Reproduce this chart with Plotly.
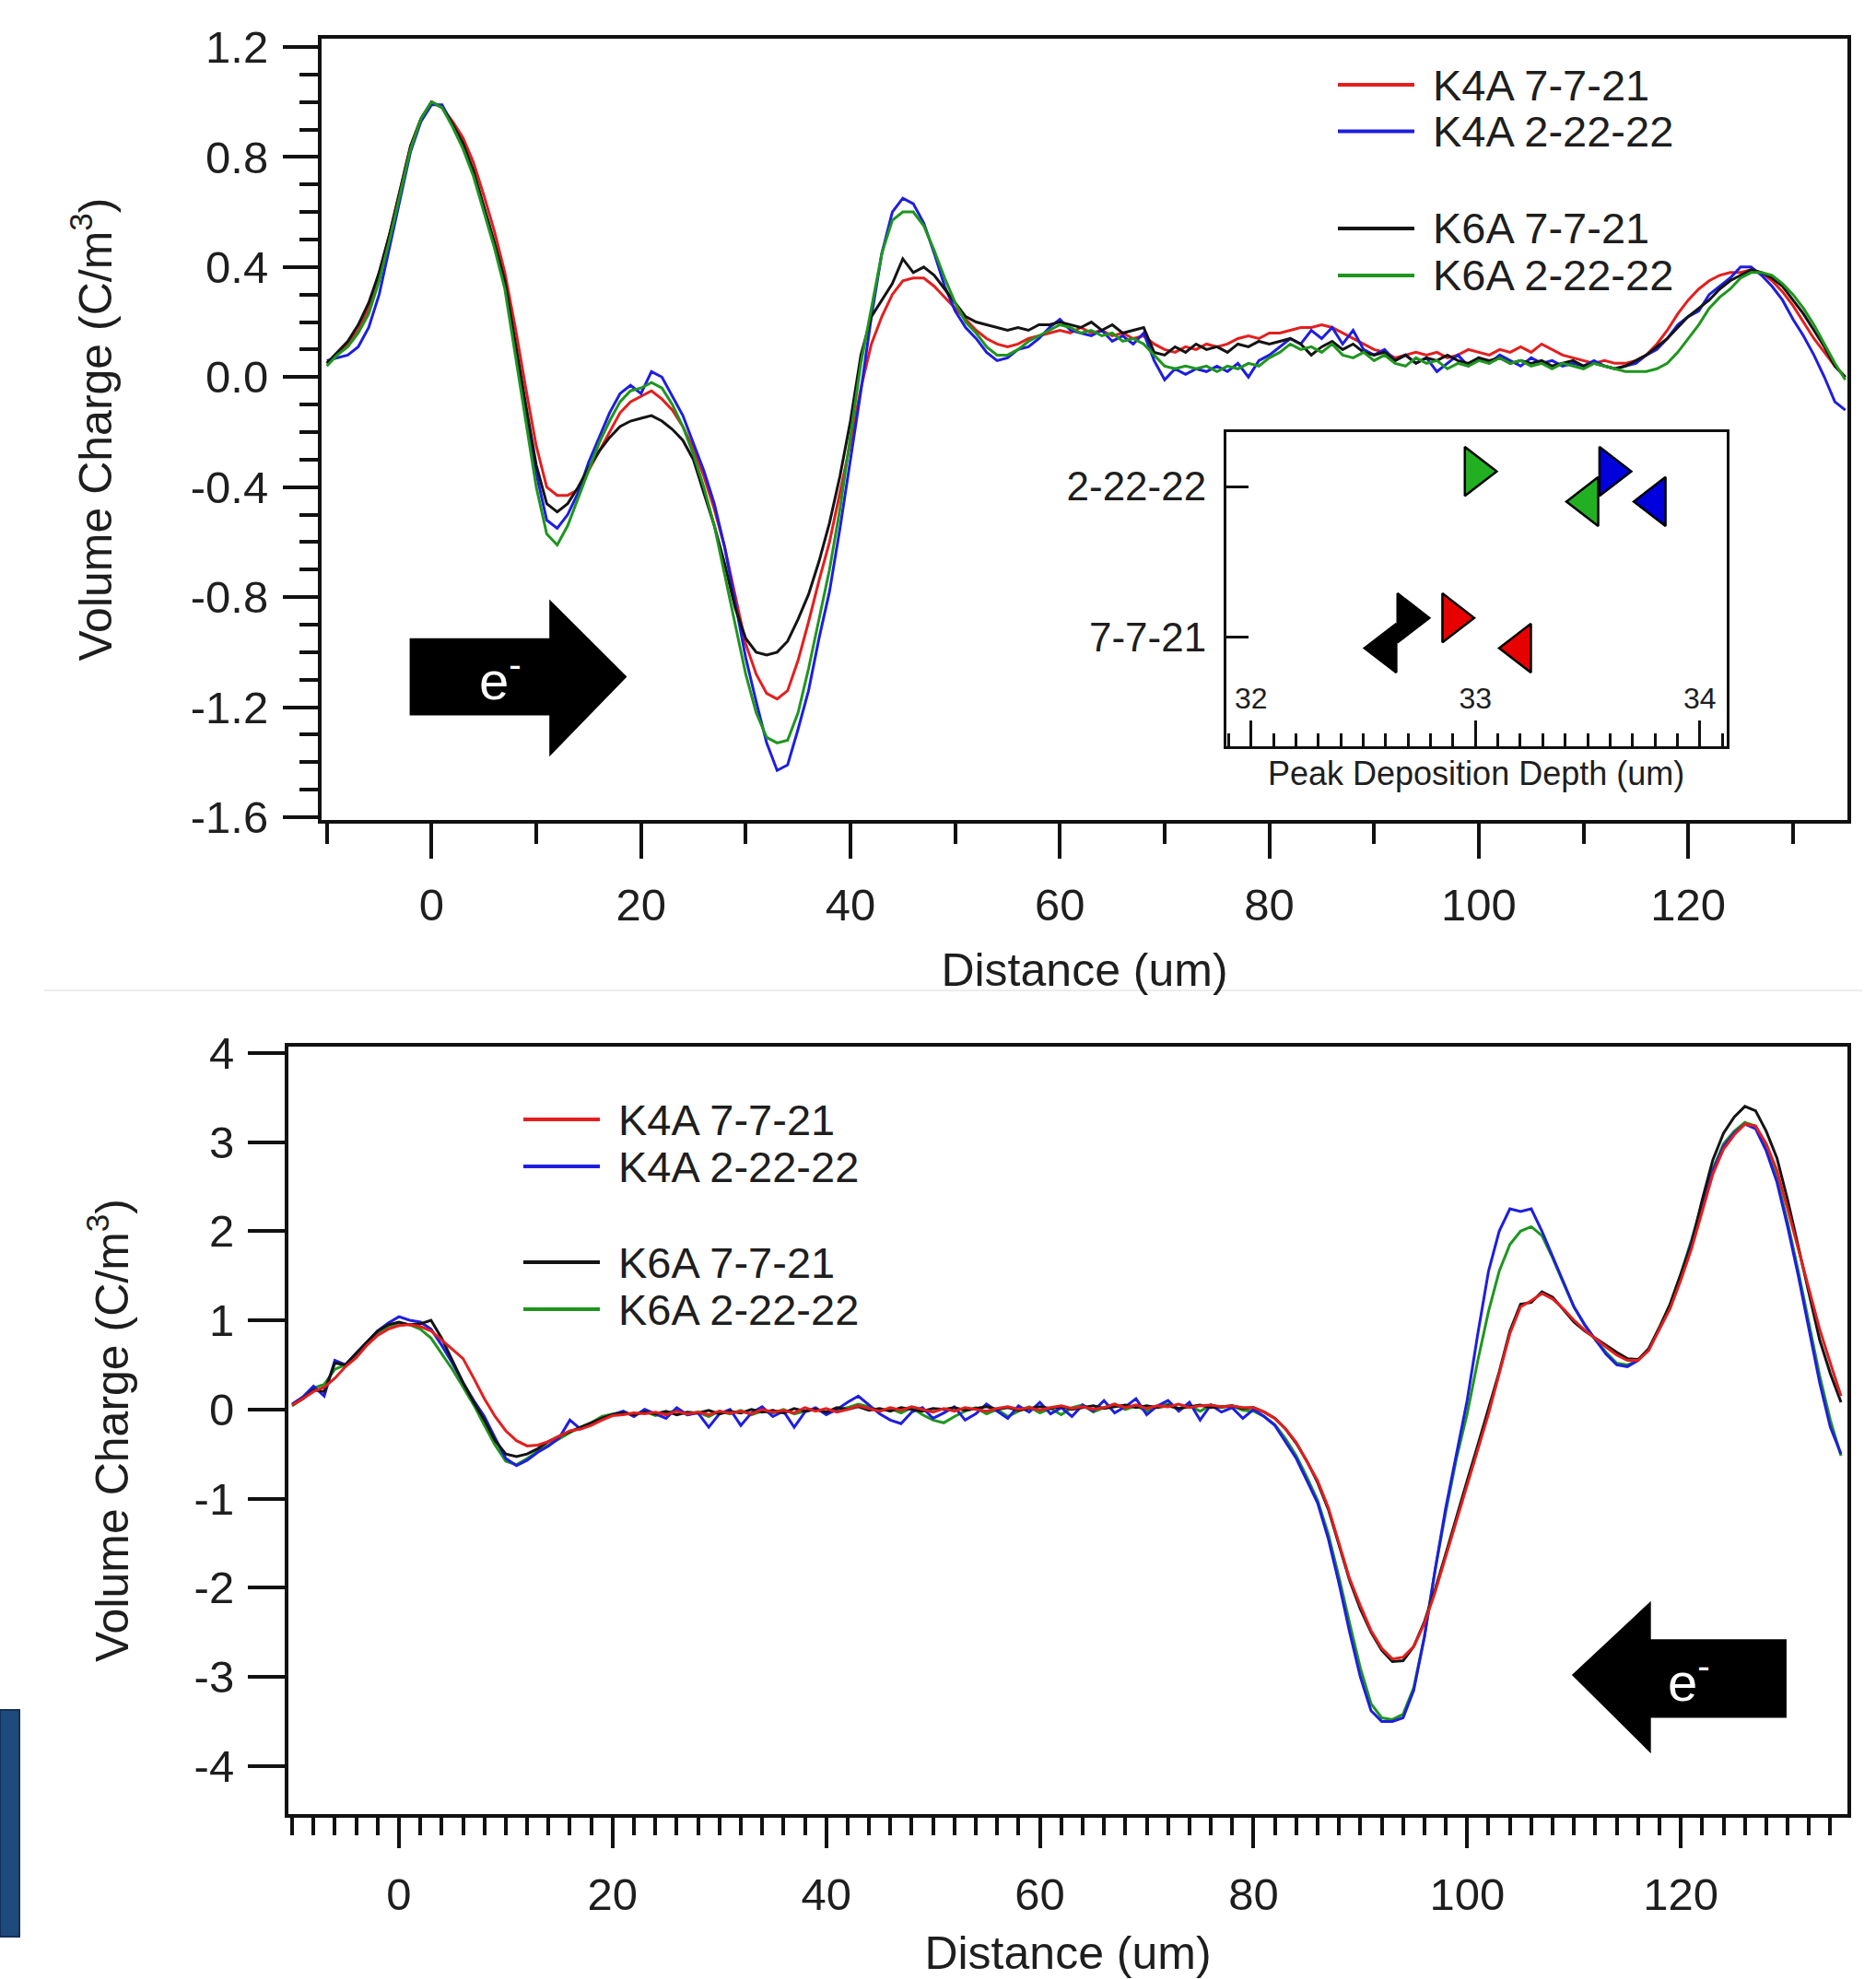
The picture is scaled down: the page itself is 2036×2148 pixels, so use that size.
import plotly.graph_objects as go

W, H = 2036, 2148
FONT = "Liberation Sans, Arial, Helvetica, sans-serif"
TXT = "#1e1e1e"
AX = "#111111"

# ---------------- data ----------------
series_names = ["K4A 7-7-21", "K4A 2-22-22", "K6A 7-7-21", "K6A 2-22-22"]
series_colors = ["#e41e1e", "#1e1ee0", "#141414", "#1e961e"]
marker_colors = ["#e60000", "#0000dd", "#000000", "#22b022"]

distance_um = list(range(-10, 136))

top_k4a_0707 = [
    0.05, 0.08, 0.12, 0.17, 0.25, 0.38, 0.52, 0.68, 0.84, 0.94,
    1.00, 0.98, 0.93, 0.87, 0.78, 0.66, 0.53, 0.38, 0.18, -0.04,
    -0.25, -0.40, -0.43, -0.43, -0.41, -0.34, -0.27, -0.20, -0.13, -0.09,
    -0.07, -0.05, -0.08, -0.12, -0.18, -0.26, -0.36, -0.48, -0.62, -0.80,
    -0.97, -1.08, -1.15, -1.17, -1.14, -1.03, -0.89, -0.74, -0.60, -0.42,
    -0.24, -0.04, 0.12, 0.22, 0.30, 0.35, 0.36, 0.36, 0.33, 0.29,
    0.25, 0.21, 0.17, 0.14, 0.12, 0.11, 0.12, 0.14, 0.15, 0.16,
    0.17, 0.16, 0.18, 0.16, 0.17, 0.15, 0.16, 0.14, 0.15, 0.12,
    0.10, 0.09, 0.11, 0.10, 0.12, 0.11, 0.12, 0.14, 0.15, 0.14,
    0.16, 0.16, 0.17, 0.18, 0.18, 0.19, 0.18, 0.16, 0.14, 0.12,
    0.10, 0.09, 0.07, 0.08, 0.09, 0.08, 0.09, 0.07, 0.08, 0.10,
    0.09, 0.08, 0.10, 0.09, 0.11, 0.09, 0.12, 0.10, 0.08, 0.07,
    0.06, 0.05, 0.06, 0.05, 0.05, 0.06, 0.08, 0.12, 0.17, 0.23,
    0.28, 0.32, 0.35, 0.37, 0.38, 0.38, 0.39, 0.38, 0.35, 0.31,
    0.26, 0.20, 0.14, 0.09, 0.04, 0.00,
]
top_k4a_0222 = [
    0.06, 0.07, 0.08, 0.11, 0.18, 0.30, 0.47, 0.65, 0.82, 0.93,
    0.99, 0.99, 0.92, 0.84, 0.74, 0.61, 0.48, 0.33, 0.10, -0.12,
    -0.35, -0.52, -0.55, -0.50, -0.42, -0.31, -0.22, -0.13, -0.06, -0.03,
    -0.06, 0.02, 0.00, -0.07, -0.14, -0.24, -0.34, -0.46, -0.62, -0.82,
    -1.02, -1.18, -1.33, -1.43, -1.41, -1.28, -1.14, -0.95, -0.78, -0.55,
    -0.30, -0.05, 0.22, 0.45, 0.60, 0.65, 0.63, 0.56, 0.45, 0.33,
    0.24, 0.18, 0.14, 0.09, 0.06, 0.07, 0.10, 0.11, 0.14, 0.18,
    0.21, 0.17, 0.16, 0.15, 0.17, 0.13, 0.15, 0.12, 0.16, 0.06,
    -0.01, 0.03, 0.01, 0.03, 0.02, 0.04, 0.02, 0.05, 0.00, 0.06,
    0.08, 0.11, 0.14, 0.12, 0.17, 0.14, 0.18, 0.12, 0.17, 0.10,
    0.08, 0.10, 0.06, 0.08, 0.05, 0.07, 0.02, 0.05, 0.08, 0.04,
    0.07, 0.05, 0.08, 0.06, 0.04, 0.07, 0.05, 0.06, 0.04, 0.05,
    0.04, 0.06, 0.04, 0.03, 0.04, 0.05, 0.08, 0.10, 0.14, 0.19,
    0.22, 0.24, 0.30, 0.33, 0.36, 0.40, 0.40, 0.37, 0.33, 0.28,
    0.21, 0.15, 0.08, 0.00, -0.09, -0.12,
]
top_k6a_0707 = [
    0.05, 0.09, 0.13, 0.19, 0.27, 0.38, 0.52, 0.68, 0.84, 0.94,
    1.00, 0.98, 0.92, 0.85, 0.75, 0.62, 0.49, 0.35, 0.12, -0.10,
    -0.32, -0.46, -0.49, -0.46, -0.40, -0.33, -0.27, -0.22, -0.18, -0.16,
    -0.15, -0.14, -0.16, -0.19, -0.23, -0.30, -0.42, -0.54, -0.68, -0.84,
    -0.95, -1.00, -1.01, -1.00, -0.96, -0.88, -0.79, -0.67, -0.53, -0.36,
    -0.16, 0.08, 0.22, 0.28, 0.34, 0.43, 0.38, 0.40, 0.37, 0.32,
    0.27, 0.22, 0.20, 0.19, 0.18, 0.17, 0.18, 0.17, 0.19, 0.19,
    0.20, 0.19, 0.18, 0.20, 0.17, 0.19, 0.16, 0.17, 0.18, 0.09,
    0.08, 0.11, 0.09, 0.12, 0.10, 0.11, 0.09, 0.12, 0.11, 0.13,
    0.12, 0.13, 0.14, 0.12, 0.08, 0.11, 0.13, 0.10, 0.12, 0.09,
    0.08, 0.09, 0.06, 0.08, 0.05, 0.07, 0.06, 0.08, 0.06, 0.05,
    0.07, 0.06, 0.07, 0.05, 0.06, 0.05, 0.06, 0.04, 0.05, 0.06,
    0.04, 0.05, 0.04, 0.03, 0.04, 0.06, 0.08, 0.11, 0.14, 0.18,
    0.22, 0.25, 0.28, 0.32, 0.35, 0.37, 0.39, 0.38, 0.36, 0.33,
    0.28, 0.23, 0.17, 0.11, 0.04, 0.00,
]
top_k6a_0222 = [
    0.04, 0.08, 0.11, 0.16, 0.23, 0.35, 0.50, 0.67, 0.83, 0.94,
    1.00, 0.98, 0.91, 0.83, 0.73, 0.60, 0.47, 0.32, 0.08, -0.16,
    -0.40, -0.57, -0.61, -0.54, -0.44, -0.34, -0.24, -0.16, -0.09, -0.05,
    -0.04, -0.02, -0.04, -0.10, -0.18, -0.28, -0.40, -0.54, -0.72, -0.90,
    -1.08, -1.22, -1.31, -1.33, -1.32, -1.22, -1.06, -0.88, -0.70, -0.48,
    -0.22, 0.05, 0.25, 0.45, 0.57, 0.60, 0.60, 0.55, 0.46, 0.36,
    0.27, 0.20, 0.16, 0.11, 0.08, 0.08, 0.10, 0.13, 0.15, 0.17,
    0.19, 0.18, 0.16, 0.17, 0.15, 0.16, 0.13, 0.14, 0.12, 0.08,
    0.04, 0.03, 0.04, 0.03, 0.04, 0.02, 0.04, 0.03, 0.05, 0.04,
    0.07, 0.09, 0.12, 0.10, 0.11, 0.09, 0.12, 0.08, 0.07, 0.09,
    0.06, 0.08, 0.05, 0.04, 0.07, 0.05, 0.06, 0.03, 0.05, 0.04,
    0.06, 0.05, 0.07, 0.05, 0.06, 0.04, 0.05, 0.03, 0.05, 0.04,
    0.03, 0.05, 0.04, 0.03, 0.02, 0.02, 0.02, 0.03, 0.05, 0.09,
    0.14, 0.19, 0.25, 0.29, 0.32, 0.36, 0.38, 0.38, 0.37, 0.34,
    0.30, 0.25, 0.19, 0.12, 0.05, -0.01,
]

bot_k4a_0707 = [
    0.05, 0.12, 0.20, 0.25, 0.35, 0.48, 0.58, 0.72, 0.83, 0.90,
    0.94, 0.95, 0.93, 0.88, 0.78, 0.68, 0.57, 0.35, 0.12, -0.08,
    -0.24, -0.35, -0.41, -0.40, -0.36, -0.30, -0.24, -0.22, -0.18, -0.12,
    -0.07,
    -0.06, -0.04, -0.05, -0.03, -0.06, -0.02, -0.05, -0.03, -0.06, -0.02,
    -0.04, -0.02, -0.05, 0.00, -0.03, -0.01, -0.04, 0.02, -0.02, 0.01,
    -0.03, 0.00, 0.04, 0.01, -0.02, 0.02, -0.01, 0.03, 0.00, -0.03,
    0.01, -0.02, 0.02, 0.00, -0.02, 0.01, 0.03, 0.00, 0.02, -0.01,
    0.02, 0.04, 0.01, 0.03, 0.00, 0.02, 0.06, 0.02, 0.05, 0.01,
    0.04, 0.03, 0.06, 0.02, 0.04, 0.05, 0.03, 0.04, 0.02,
    0.02, -0.03, -0.10, -0.22, -0.37, -0.58, -0.80, -1.10, -1.50, -1.90,
    -2.20, -2.48, -2.68, -2.80, -2.78, -2.66, -2.40, -2.05, -1.65, -1.25,
    -0.85, -0.45, -0.05, 0.40, 0.85, 1.15, 1.22, 1.30, 1.24, 1.13,
    1.00, 0.89, 0.79, 0.70, 0.61, 0.55, 0.55, 0.66, 0.90, 1.13,
    1.45, 1.80, 2.22, 2.64, 2.92, 3.08, 3.20, 3.18, 2.98, 2.68,
    2.25, 1.80, 1.35, 0.90, 0.52, 0.15,
]
bot_k4a_0222 = [
    0.06, 0.14, 0.26, 0.15, 0.55, 0.50, 0.63, 0.76, 0.88, 0.97,
    1.04, 1.00, 0.98, 0.90, 0.72, 0.52, 0.30, 0.10, -0.08, -0.32,
    -0.55, -0.63, -0.57, -0.48, -0.41, -0.32, -0.12, -0.22, -0.17, -0.10,
    -0.06,
    -0.02, -0.08, 0.00, -0.05, -0.10, 0.02, -0.06, -0.04, -0.20, -0.05,
    0.00, -0.18, -0.04, 0.03, -0.08, -0.02, -0.20, -0.03, 0.02, -0.06,
    0.00, 0.08, 0.15, 0.05, -0.05, -0.12, -0.16, -0.03, 0.02, -0.10,
    -0.04, 0.03, -0.12, -0.05, 0.06, -0.02, -0.10, 0.04, -0.03, 0.08,
    -0.05, 0.02, -0.08, 0.05, -0.02, 0.10, -0.04, 0.03, 0.12, -0.06,
    0.04, 0.10, -0.02, 0.08, -0.12, 0.05, -0.03, 0.02, -0.10,
    0.00, -0.08, -0.18, -0.36, -0.55, -0.80, -1.05, -1.45, -1.95, -2.50,
    -3.00, -3.38, -3.50, -3.50, -3.46, -3.15, -2.55, -1.80, -1.10, -0.50,
    0.10, 0.85, 1.55, 2.00, 2.25, 2.22, 2.25, 2.00, 1.72, 1.42,
    1.15, 0.95, 0.78, 0.62, 0.50, 0.48, 0.55, 0.68, 0.90, 1.15,
    1.50, 1.88, 2.30, 2.68, 2.95, 3.10, 3.20, 3.15, 2.90, 2.55,
    2.05, 1.50, 0.90, 0.30, -0.20, -0.50,
]
bot_k6a_0707 = [
    0.05, 0.12, 0.22, 0.20, 0.52, 0.50, 0.63, 0.75, 0.88, 0.95,
    0.98, 0.95, 0.96, 1.00, 0.80, 0.55, 0.30, 0.08, -0.12, -0.35,
    -0.50, -0.53, -0.50, -0.44, -0.36, -0.30, -0.25, -0.20, -0.15, -0.10,
    -0.06,
    -0.04, -0.06, -0.03, -0.05, -0.02, -0.06, -0.03, -0.04, -0.01, -0.05,
    -0.02, -0.04, 0.00, -0.03, -0.01, -0.04, 0.01, -0.02, 0.00, -0.03,
    0.02, 0.00, 0.03, -0.01, 0.01, -0.02, 0.02, 0.00, -0.02, 0.01,
    0.00, 0.02, -0.01, 0.01, 0.03, 0.00, 0.02, -0.01, 0.01, 0.03,
    0.01, 0.03, 0.00, 0.02, 0.04, 0.01, 0.03, 0.05, 0.02, 0.04,
    0.02, 0.04, 0.01, 0.03, 0.05, 0.02, 0.03, 0.04, 0.01,
    0.02, -0.03, -0.10, -0.22, -0.38, -0.58, -0.82, -1.12, -1.52, -1.92,
    -2.24, -2.50, -2.70, -2.83, -2.82, -2.66, -2.38, -2.02, -1.62, -1.20,
    -0.80, -0.40, 0.00, 0.42, 0.88, 1.18, 1.20, 1.32, 1.26, 1.12,
    0.98, 0.88, 0.80, 0.72, 0.64, 0.57, 0.56, 0.68, 0.92, 1.18,
    1.52, 1.85, 2.35, 2.80, 3.10, 3.28, 3.40, 3.35, 3.12, 2.82,
    2.35, 1.82, 1.30, 0.78, 0.40, 0.08,
]
bot_k6a_0222 = [
    0.04, 0.12, 0.24, 0.28, 0.45, 0.50, 0.60, 0.73, 0.85, 0.93,
    0.97, 0.95, 0.90, 0.80, 0.62, 0.45, 0.25, 0.05, -0.18, -0.40,
    -0.58, -0.62, -0.55, -0.47, -0.40, -0.33, -0.26, -0.20, -0.15, -0.08,
    -0.05,
    -0.03, -0.06, -0.02, -0.07, -0.04, -0.01, -0.06, -0.03, -0.08, -0.02,
    -0.05, -0.01, -0.06, -0.02, -0.04, 0.00, -0.05, -0.02, 0.01, -0.04,
    -0.01, 0.02, 0.06, 0.03, -0.02, 0.01, -0.04, 0.02, -0.06, -0.12,
    -0.15, -0.08, -0.02, 0.02, -0.05, 0.00, -0.08, -0.02, 0.03, -0.04,
    0.01, -0.06, 0.02, 0.05, -0.03, 0.02, 0.06, 0.00, 0.04, -0.02,
    0.03, 0.06, 0.01, 0.04, -0.02, 0.05, 0.02, 0.04, -0.01,
    -0.02, -0.08, -0.17, -0.33, -0.52, -0.76, -1.02, -1.40, -1.88, -2.40,
    -2.90, -3.30, -3.46, -3.48, -3.42, -3.12, -2.55, -1.80, -1.15, -0.55,
    -0.05, 0.55, 1.10, 1.55, 1.85, 2.00, 2.05, 1.95, 1.70, 1.42,
    1.15, 0.95, 0.78, 0.64, 0.52, 0.50, 0.55, 0.68, 0.92, 1.18,
    1.52, 1.90, 2.32, 2.70, 2.98, 3.12, 3.22, 3.18, 2.95, 2.60,
    2.10, 1.55, 0.95, 0.38, -0.12, -0.52,
]

# inset: peak deposition depth (um); two estimates per sample (right / left triangles)
inset_rows = ["7-7-21", "2-22-22"]
inset_depth_right = [32.90, 33.60, 32.70, 33.00]
inset_depth_left = [33.20, 33.80, 32.60, 33.50]
inset_row_right = [1.13, 2.10, 1.13, 2.10]
inset_row_left = [0.93, 1.90, 0.93, 1.90]

top_yticks = [-1.6, -1.2, -0.8, -0.4, 0.0, 0.4, 0.8, 1.2]
top_yticktext = ["-1.6", "-1.2", "-0.8", "-0.4", "0.0", "0.4", "0.8", "1.2"]
bot_yticks = [-4, -3, -2, -1, 0, 1, 2, 3, 4]
bot_yticktext = ["-4", "-3", "-2", "-1", "0", "1", "2", "3", "4"]

top_series = [top_k4a_0707, top_k4a_0222, top_k6a_0707, top_k6a_0222]
bot_series = [bot_k4a_0707, bot_k4a_0222, bot_k6a_0707, bot_k6a_0222]
for s in top_series + bot_series:
    assert len(s) == len(distance_um), len(s)


def px(x):
    return x / W


def py(y):
    return 1 - y / H


fig = go.Figure()

for i in [0, 1, 2, 3]:
    fig.add_trace(go.Scatter(
        x=distance_um, y=top_series[i], mode="lines", name=series_names[i],
        line=dict(color=series_colors[i], width=3), xaxis="x", yaxis="y",
        showlegend=False))
for i in [3, 1, 2, 0]:
    fig.add_trace(go.Scatter(
        x=distance_um, y=bot_series[i], mode="lines", name=series_names[i],
        line=dict(color=series_colors[i], width=3), xaxis="x2", yaxis="y2",
        showlegend=False))

fig.add_trace(go.Scatter(
    x=inset_depth_right, y=inset_row_right, mode="markers", xaxis="x3", yaxis="y3",
    text=series_names, showlegend=False,
    marker=dict(symbol="triangle-right", size=46, color=marker_colors,
                line=dict(color="#000", width=2.5))))
fig.add_trace(go.Scatter(
    x=inset_depth_left, y=inset_row_left, mode="markers", xaxis="x3", yaxis="y3",
    text=series_names, showlegend=False,
    marker=dict(symbol="triangle-left", size=46, color=marker_colors,
                line=dict(color="#000", width=2.5))))


def frame_axis(**kw):
    d = dict(showline=True, linecolor=AX, linewidth=4, mirror=True,
             tickcolor=AX, tickwidth=3.5, showgrid=False, zeroline=False,
             automargin=False,
             tickfont=dict(family=FONT, size=49, color=TXT))
    d.update(kw)
    return d


title_font = dict(family=FONT, size=50, color=TXT)

fig.update_layout(
    template="none",
    width=W, height=H, margin=dict(l=0, r=0, t=0, b=0, pad=0), autosize=False,
    paper_bgcolor="white", plot_bgcolor="white", showlegend=False,
    font=dict(family=FONT, color=TXT),
    xaxis=frame_axis(
        domain=[px(349), px(2005)], range=[-10.5, 135.2], anchor="y",
        ticks="outside", tickmode="linear", tick0=0, dtick=20, ticklen=38,
        ticklabelstandoff=8,
        minor=dict(ticks="outside", tickmode="linear", tick0=0, dtick=10,
                   ticklen=22, tickwidth=3.5, tickcolor=AX),
        title=dict(text="Distance (um)", font=title_font, standoff=28)),
    yaxis=frame_axis(
        domain=[py(890), py(42)], range=[-1.61, 1.23], anchor="x",
        ticks="outside", tickmode="array", tickvals=top_yticks,
        ticktext=top_yticktext, ticklen=38, ticklabelstandoff=6,
        minor=dict(ticks="outside", tickmode="linear", tick0=0, dtick=0.1,
                   ticklen=20, tickwidth=3.5, tickcolor=AX),
        title=dict(text="Volume Charge (C/m<sup>3</sup>)", font=title_font,
                   standoff=70)),
    xaxis2=frame_axis(
        domain=[px(313), px(2005)], range=[-10.35, 135.6], anchor="y2",
        ticks="outside", tickmode="linear", tick0=0, dtick=20, ticklen=33,
        ticklabelstandoff=8,
        minor=dict(ticks="outside", tickmode="linear", tick0=0, dtick=2,
                   ticklen=19, tickwidth=3.5, tickcolor=AX),
        title=dict(text="Distance (um)", font=title_font, standoff=28)),
    yaxis2=frame_axis(
        domain=[py(1969), py(1136)], range=[-4.54, 4.07], anchor="x2",
        ticks="outside", tickmode="array", tickvals=bot_yticks,
        ticktext=bot_yticktext, ticklen=40, ticklabelstandoff=5,
        title=dict(text="Volume Charge (C/m<sup>3</sup>)", font=title_font,
                   standoff=56)),
    xaxis3=frame_axis(
        domain=[px(1331), px(1874)], range=[31.89, 34.12], anchor="y3",
        linewidth=3, tickwidth=2.5,
        ticks="inside", tickmode="linear", tick0=32, dtick=1, ticklen=28,
        ticklabelposition="inside", ticklabelstandoff=10,
        tickfont=dict(family=FONT, size=32, color=TXT),
        minor=dict(ticks="inside", tickmode="linear", tick0=32, dtick=0.1,
                   ticklen=14, tickwidth=2.5, tickcolor=AX)),
    yaxis3=frame_axis(
        domain=[py(810), py(469)], range=[0.28, 2.36], anchor="x3",
        linewidth=3, tickwidth=2.5,
        ticks="inside", tickmode="array", tickvals=[1, 2], ticktext=inset_rows,
        ticklen=24, ticklabelstandoff=10,
        tickfont=dict(family=FONT, size=44, color=TXT)),
)

shapes = []
annotations = []

# legends (drawn manually to match the long line glyphs of the original)
top_leg_y = [92, 142.5, 248, 299]
bot_leg_y = [1215, 1266, 1370, 1421]
for i, name in enumerate(series_names):
    for (x0, x1, xt, ys) in [(1452, 1535, 1553, top_leg_y), (568, 651, 669, bot_leg_y)]:
        shapes.append(dict(type="line", xref="paper", yref="paper",
                           x0=px(x0), x1=px(x1), y0=py(ys[i]), y1=py(ys[i]),
                           line=dict(color=series_colors[i], width=4)))
        annotations.append(dict(text=name, xref="paper", yref="paper",
                                x=px(xt), y=py(ys[i]), xanchor="left", yanchor="middle",
                                showarrow=False, font=dict(family=FONT, size=47, color=TXT)))

# inset x-axis title (sits just below the inset frame)
annotations.append(dict(text="Peak Deposition Depth (um)", xref="paper", yref="paper",
                        x=px(1602), y=py(840), xanchor="center", yanchor="middle",
                        showarrow=False, font=dict(family=FONT, size=36, color=TXT)))

# electron-direction arrows
shapes.append(dict(
    type="path", xref="x", yref="y", fillcolor="#000", line=dict(width=0),
    path="M -2.09,-0.949 L 11.25,-0.949 L 11.25,-0.808 L 18.66,-1.089 "
         "L 11.25,-1.380 L 11.25,-1.230 L -2.09,-1.230 Z"))
shapes.append(dict(
    type="path", xref="x2", yref="y2", fillcolor="#000", line=dict(width=0),
    path="M 129.9,-2.58 L 117.2,-2.58 L 117.2,-2.15 L 109.8,-2.98 "
         "L 117.2,-3.86 L 117.2,-3.46 L 129.9,-3.46 Z"))
annotations.append(dict(text="e<sup>-</sup>", xref="x", yref="y", x=6.6, y=-1.09,
                        showarrow=False, font=dict(family=FONT, size=58, color="white")))
annotations.append(dict(text="e<sup>-</sup>", xref="x2", yref="y2", x=120.8, y=-3.02,
                        showarrow=False, font=dict(family=FONT, size=58, color="white")))

# faint separator between the panels and slide decoration
shapes.append(dict(type="line", xref="paper", yref="paper", x0=px(48), x1=px(2021),
                   y0=py(1075), y1=py(1075), line=dict(color="#ececec", width=2)))
shapes.append(dict(type="rect", xref="paper", yref="paper", x0=0, x1=px(21),
                   y0=py(2102), y1=py(1856), fillcolor="#1f4a7c",
                   line=dict(color="#14305a", width=2)))

fig.update_layout(shapes=shapes, annotations=annotations)

fig.write_html("out.html", config={"displayModeBar": False},
               post_script="document.body.style.margin='0px';")
